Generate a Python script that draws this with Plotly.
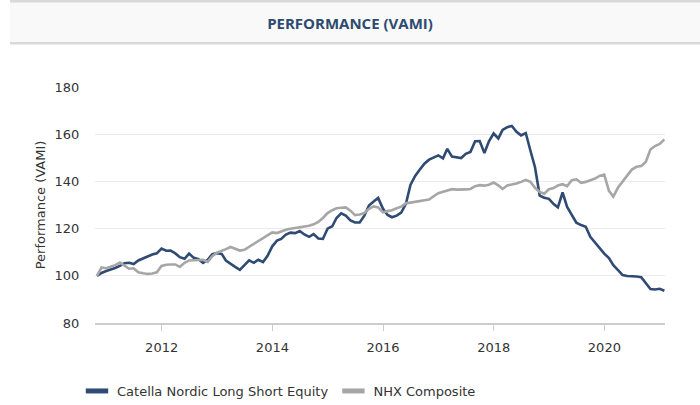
import plotly.graph_objects as go
import pandas as pd

# Monthly observation dates (month-end)
dates = pd.date_range("2010-10-31", periods=124, freq="ME")

series_names = ["Catella Nordic Long Short Equity", "NHX Composite"]

catella = [
    100, 101.2, 102, 102.6, 103.3, 104.2, 105.3, 105.5, 105, 106.5,
    107.5, 108.2, 109, 109.5, 111.5, 110.6, 110.7, 109.5, 107.9, 107.2,
    109.4, 107.6, 107, 105.5, 106.8, 109.2, 109.6, 109.3, 106.5, 105.3,
    103.8, 102.5, 104.6, 106.5, 105.5, 106.8, 105.8, 108.5, 112.5, 114.9,
    115.6, 117.5, 118.3, 118.1, 119, 117.5, 116.5, 117.7, 115.8, 115.6,
    120, 121, 124.5, 126.5, 125.5, 123.5, 122.6, 122.6, 125.5, 129.8,
    131.5, 133, 128.5, 125.8, 124.8, 125.5, 126.8, 130.5, 138.5, 142.3,
    145, 147.5, 149.2, 150.2, 151, 149.8, 153.8, 150.5, 150.2, 149.9,
    151.7, 152.5, 157, 157.1, 152, 157, 160.3, 158.2, 161.8, 163,
    163.5, 161, 159.5, 160.5, 153, 146, 134, 133.1, 132.6, 130.4,
    129, 135.3, 129.2, 126, 122.5, 121.5, 120.8, 116.5, 114, 112,
    109.4, 107.5, 104.5, 102.4, 100.3, 99.9, 99.9, 99.7, 99.4, 97,
    94.4, 94.2, 94.5, 93.7,
]

nhx = [
    100, 103.5, 103.2, 103.8, 104.5, 105.6, 104.2, 103, 103.2, 101.5,
    101.1, 100.8, 101, 101.5, 104.2, 104.7, 104.8, 104.8, 103.8, 105.5,
    106.5, 106.6, 106.7, 106.8, 105.9, 108.3, 109.8, 110.5, 111.3, 112.2,
    111.5, 110.7, 111, 112.3, 113.5, 114.6, 116, 117.4, 118.4, 118.1,
    118.9, 119.5, 119.9, 120.2, 120.5, 120.8, 121.2, 121.8, 122.8, 124.5,
    126.6, 127.8, 128.6, 128.8, 129, 127.6, 125.7, 126, 126.6, 128.4,
    129.4, 129, 126.9, 127.4, 127.8, 128.6, 129.3, 130.7, 131, 131.3,
    131.6, 131.9, 132.3, 133.7, 135, 135.6, 136.2, 136.7, 136.5, 136.4,
    136.6, 136.8, 138, 138.4, 138.2, 138.6, 139.5, 138.3, 136.8, 138.3,
    138.6, 139.1, 139.8, 140.6, 139.8, 137.3, 135.5, 134.8, 136.7, 137.2,
    138.3, 138.8, 138, 140.5, 140.9, 139.4, 139.8, 140.4, 141.2, 142.3,
    142.9, 136, 133.6, 137.4, 140, 142.3, 145, 146.2, 146.5, 148.2,
    153.5, 155, 155.9, 157.8,
]

y_ticks = [80, 100, 120, 140, 160, 180]
x_ticks = ["2012-01-01", "2014-01-01", "2016-01-01", "2018-01-01", "2020-01-01"]
x_tick_labels = ["2012", "2014", "2016", "2018", "2020"]

BLUE = "#2f4b73"
GRAY = "#a6a6a6"
FONT = "DejaVu Sans"

fig = go.Figure()
for name, vals, col in [(series_names[0], catella, BLUE), (series_names[1], nhx, GRAY)]:
    fig.add_trace(go.Scatter(x=dates, y=vals, mode="lines", name=name,
                             line=dict(color=col, width=2.6), showlegend=False,
                             hoverinfo="skip"))
# legend entries (swatch style)
for name, col in [(series_names[0], BLUE), (series_names[1], GRAY)]:
    fig.add_trace(go.Scatter(x=[None], y=[None], mode="markers", name=name,
                             marker=dict(symbol="line-ew", size=16,
                                         line=dict(width=5, color=col))))

# header band (paper coords; plot area is 95..665 x 87..323 px)
fig.add_shape(type="rect", xref="paper", yref="paper", x0=-0.149, x1=1.07,
              y0=1.1856, y1=1.3636, fillcolor="#f9f9f9", line=dict(width=0), layer="below")
for yy in (1.1856, 1.3636):
    fig.add_shape(type="line", xref="paper", yref="paper", x0=-0.149, x1=1.07,
                  y0=yy, y1=yy, line=dict(color="#d9d9d9", width=2.5))

fig.update_layout(
    width=700, height=405,
    margin=dict(l=95, r=35, t=87, b=82, autoexpand=False),
    paper_bgcolor="white", plot_bgcolor="white",
    font=dict(family=FONT, size=13, color="#333333"),
    title=dict(text="<b>PERFORMANCE (VAMI)</b>", x=0.5, xanchor="center",
               xref="container", y=1 - 24 / 405, yref="container", yanchor="middle",
               font=dict(family="Open Sans", size=15, color="#2d4a70")),
    showlegend=True,
    legend=dict(orientation="h", xref="container", x=0.11, xanchor="left",
                yref="container", y=1 - 391 / 405, yanchor="middle",
                font=dict(family=FONT, size=13, color="#333333"),
                bgcolor="rgba(0,0,0,0)"),
    xaxis=dict(type="date", range=["2010-10-18", "2021-02-04"], automargin=False,
               tickvals=x_ticks, ticktext=x_tick_labels,
               showgrid=False, zeroline=False,
               showline=True, linecolor="#cccccc", linewidth=1.5,
               ticks="outside", ticklen=6, tickcolor="#cccccc", tickwidth=1,
               ticklabelstandoff=6,
               tickfont=dict(family=FONT, size=13, color="#333333")),
    yaxis=dict(range=[80, 180], tickvals=y_ticks, automargin=False,
               showgrid=True, gridcolor="#ebebeb", gridwidth=1.2,
               zeroline=False, showline=False,
               ticks="outside", ticklen=12, tickcolor="rgba(0,0,0,0)",
               tickfont=dict(family=FONT, size=13, color="#333333"),
               title=dict(text="Performance (VAMI)", standoff=6,
                          font=dict(family=FONT, size=13, color="#333333"))),
)

fig.write_html("out.html", config={"displayModeBar": False},
               post_script="document.body.style.margin='0';")
